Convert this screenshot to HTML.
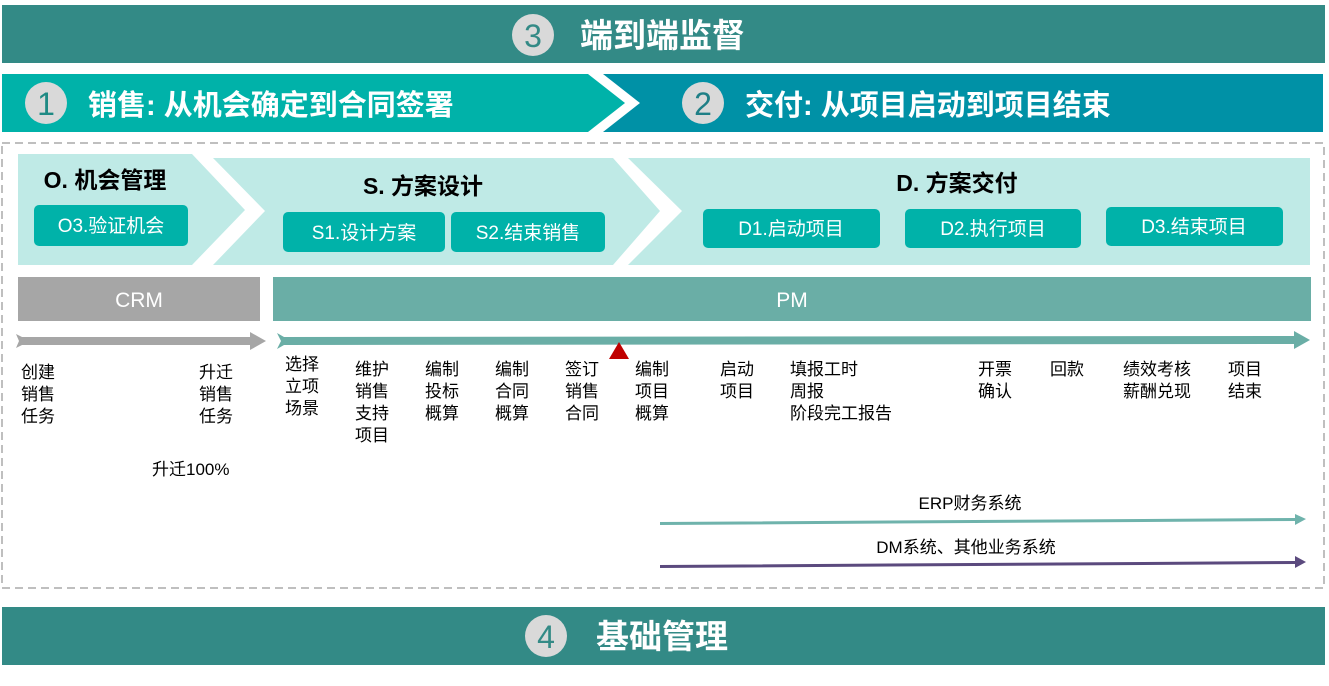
<!DOCTYPE html>
<html><head><meta charset="utf-8"><style>
body{margin:0;background:#fff;}
svg text{font-family:"Liberation Sans","Noto Sans CJK SC",sans-serif;}
</style></head><body>
<svg width="1329" height="681" viewBox="0 0 1329 681" xmlns="http://www.w3.org/2000/svg">
<rect x="2" y="5" width="1323" height="58" fill="#338a86"/>
<circle cx="533" cy="35" r="21" fill="#d9d9d9"/>
<text x="533" y="47" font-size="32" fill="#338a86" text-anchor="middle">3</text>
<text x="580" y="47" font-size="33" font-weight="bold" fill="#fff">端到端监督</text>

<polygon points="2,74 588,74 625,103 588,132 2,132" fill="#00b2a9"/>
<polygon points="603,74 1323,74 1323,132 603,132 640,103" fill="#0091a6"/>
<circle cx="46" cy="103" r="21" fill="#d9d9d9"/>
<text x="46" y="115" font-size="32" fill="#1f8a84" text-anchor="middle">1</text>
<text x="88" y="115" font-size="29" font-weight="bold" fill="#fff">销售: 从机会确定到合同签署</text>
<circle cx="703" cy="103" r="21" fill="#d9d9d9"/>
<text x="703" y="115" font-size="32" fill="#1f7f86" text-anchor="middle">2</text>
<text x="745" y="115" font-size="29" font-weight="bold" fill="#fff">交付: 从项目启动到项目结束</text>

<rect x="2" y="143" width="1322" height="445" fill="none" stroke="#bfbfbf" stroke-width="2" stroke-dasharray="8,5"/>

<polygon points="18,154 192,154 245,210 192,265 18,265" fill="#bfeae6"/>
<polygon points="213,158 613,158 660,211 613,265 213,265 265,211" fill="#bfeae6"/>
<polygon points="628,158 1310,158 1310,265 628,265 682,211" fill="#bfeae6"/>

<text x="105" y="188" font-size="23" font-weight="bold" fill="#000" text-anchor="middle">O. 机会管理</text>
<text x="423" y="194" font-size="23" font-weight="bold" fill="#000" text-anchor="middle">S. 方案设计</text>
<text x="957" y="191" font-size="23" font-weight="bold" fill="#000" text-anchor="middle">D. 方案交付</text>

<g fill="#00b2a9">
<rect x="34" y="205" width="154" height="41" rx="5"/>
<rect x="283" y="212" width="162" height="40" rx="5"/>
<rect x="451" y="212" width="154" height="40" rx="5"/>
<rect x="703" y="209" width="177" height="39" rx="5"/>
<rect x="905" y="209" width="176" height="39" rx="5"/>
<rect x="1106" y="207" width="177" height="39" rx="5"/>
</g>
<g fill="#fff" font-size="19" text-anchor="middle">
<text x="111" y="232">O3.验证机会</text>
<text x="364" y="239">S1.设计方案</text>
<text x="528" y="239">S2.结束销售</text>
<text x="791" y="235">D1.启动项目</text>
<text x="993" y="235">D2.执行项目</text>
<text x="1194" y="233">D3.结束项目</text>
</g>

<rect x="18" y="277" width="242" height="44" fill="#a6a6a6"/>
<text x="139" y="307" font-size="21" fill="#fff" text-anchor="middle">CRM</text>
<rect x="273" y="277" width="1038" height="44" fill="#6aaea6"/>
<text x="792" y="307" font-size="21" fill="#fff" text-anchor="middle">PM</text>

<polygon points="16,334 22,337 250,337 250,332 266,341 250,350 250,345 22,345 16,348 19,341" fill="#a6a6a6"/>
<polygon points="277,333 284,337 1294,336 1294,331 1310,340 1294,349 1294,344 284,345 277,349 281,341" fill="#6aaea6"/>
<polygon points="619,342 609,359 629,359" fill="#c00000"/>

<g font-size="17" fill="#000">
<text x="21" y="378">创建</text><text x="21" y="400">销售</text><text x="21" y="422">任务</text>
<text x="199" y="378">升迁</text><text x="199" y="400">销售</text><text x="199" y="422">任务</text>
<text x="152" y="475">升迁100%</text>
<text x="285" y="370">选择</text><text x="285" y="392">立项</text><text x="285" y="414">场景</text>
<text x="355" y="375">维护</text><text x="355" y="397">销售</text><text x="355" y="419">支持</text><text x="355" y="441">项目</text>
<text x="425" y="375">编制</text><text x="425" y="397">投标</text><text x="425" y="419">概算</text>
<text x="495" y="375">编制</text><text x="495" y="397">合同</text><text x="495" y="419">概算</text>
<text x="565" y="375">签订</text><text x="565" y="397">销售</text><text x="565" y="419">合同</text>
<text x="635" y="375">编制</text><text x="635" y="397">项目</text><text x="635" y="419">概算</text>
<text x="720" y="375">启动</text><text x="720" y="397">项目</text>
<text x="790" y="375">填报工时</text><text x="790" y="397">周报</text><text x="790" y="419">阶段完工报告</text>
<text x="978" y="375">开票</text><text x="978" y="397">确认</text>
<text x="1050" y="375">回款</text>
<text x="1123" y="375">绩效考核</text><text x="1123" y="397">薪酬兑现</text>
<text x="1228" y="375">项目</text><text x="1228" y="397">结束</text>
<text x="970" y="509" text-anchor="middle">ERP财务系统</text>
<text x="966" y="553" text-anchor="middle">DM系统、其他业务系统</text>
</g>

<polygon points="660,522 1295,518 1295,514 1306,519 1295,525 1295,521 660,525" fill="#6fb3ac"/>
<polygon points="660,565 1295,561 1295,556 1306,562 1295,568 1295,564 660,568" fill="#5b4a7e"/>

<rect x="2" y="607" width="1323" height="58" fill="#338a86"/>
<circle cx="546" cy="636" r="21" fill="#d9d9d9"/>
<text x="546" y="648" font-size="32" fill="#338a86" text-anchor="middle">4</text>
<text x="596" y="648" font-size="33" font-weight="bold" fill="#fff">基础管理</text>
</svg>
</body></html>
